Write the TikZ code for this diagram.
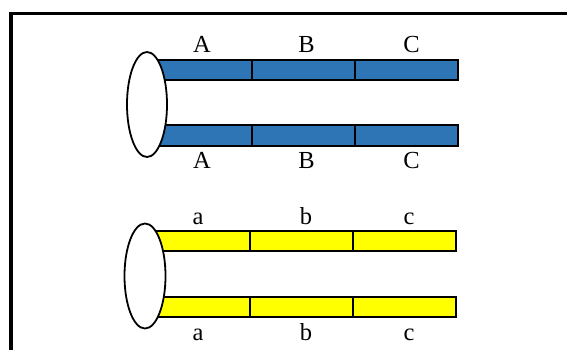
\documentclass[tikz,border=0pt]{standalone}
\usepackage{fontspec}
\setmainfont{Liberation Serif}
\usetikzlibrary{shapes.geometric}
\definecolor{barblue}{HTML}{2E75B6}
\definecolor{baryellow}{HTML}{FFFF00}
\begin{document}
\begin{tikzpicture}[x=1pt,y=-1pt,
  seg/.style={draw=black, line width=2pt, inner sep=0pt, minimum height=20pt, anchor=north west},
  bseg/.style={seg, fill=barblue},
  yseg/.style={seg, fill=baryellow},
  loop/.style={ellipse, draw=black, fill=white, line width=1.8pt, inner sep=0pt, minimum width=40pt, minimum height=105pt},
  lab/.style={anchor=base, inner sep=0pt, font=\fontsize{24.5}{28}\selectfont}]
\useasboundingbox (0,0) rectangle (567,350);
\draw[line width=3.5pt] (11,420) -- (11,13.5) -- (620,13.5);
% blue pair
\node[bseg, minimum width=104pt] (bt1) at (147,59) {};
\node[bseg, minimum width=103pt] (bt2) at (251,59) {};
\node[bseg, minimum width=103pt] (bt3) at (354,59) {};
\node[bseg, minimum width=104pt] (bb1) at (147,124.5) {};
\node[bseg, minimum width=103pt] (bb2) at (251,124.5) {};
\node[bseg, minimum width=103pt] (bb3) at (354,124.5) {};
\node[loop] (bl) at (147,104.5) {};
\node[lab] (lA1) at (202,52.5) {A};
\node[lab] (lB1) at (306.5,52.5) {B};
\node[lab] (lC1) at (411.5,52.5) {C};
\node[lab] (lA2) at (202,168) {A};
\node[lab] (lB2) at (306.5,168) {B};
\node[lab] (lC2) at (411.5,168) {C};
% yellow pair
\node[yseg, minimum width=104pt] (yt1) at (145,230) {};
\node[yseg, minimum width=103pt] (yt2) at (249,230) {};
\node[yseg, minimum width=103pt] (yt3) at (352,230) {};
\node[yseg, minimum width=104pt] (yb1) at (145,296) {};
\node[yseg, minimum width=103pt] (yb2) at (249,296) {};
\node[yseg, minimum width=103pt] (yb3) at (352,296) {};
\node[loop, minimum width=41pt] (yl) at (145,276) {};
\node[lab] (la1) at (198,224) {a};
\node[lab] (lb1) at (306,224) {b};
\node[lab] (lc1) at (409,224) {c};
\node[lab] (la2) at (198,340.5) {a};
\node[lab] (lb2) at (306,340.5) {b};
\node[lab] (lc2) at (409,340.5) {c};
\end{tikzpicture}
\end{document}
